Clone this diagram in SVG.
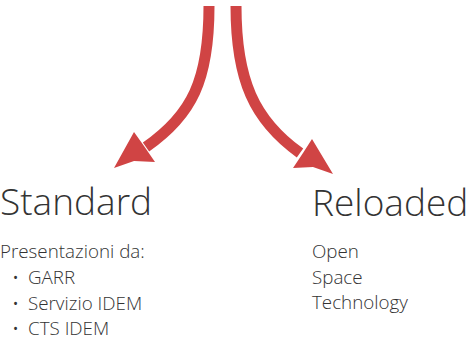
<svg xmlns="http://www.w3.org/2000/svg" width="472" height="341" viewBox="0 0 472 341">
<style>
.shaft{fill:none;stroke:#d04444;stroke-width:11;stroke-linecap:butt}
.head{fill:#d04444}
.t{font-family:"Open Sans","Liberation Sans",sans-serif;font-weight:300;fill:#333}
.big{font-size:37px}
.small{font-size:18.8px}
</style>
<rect width="472" height="341" fill="#fff"/>
<g id="connectors">
<path class="shaft" d="M209,6 C209,80 192,115 146,147"/>
<polygon class="head" points="114,168 134,132 144,146 155,162 134,161"/>
<path class="shaft" d="M236,6 C236,80 254,120 300,153"/>
<polygon class="head" points="333,174 312,139 303,153 293,168 313,167"/>
</g>
<g id="standard">
<text class="t big" x="0" y="215">Standard</text>
<text class="t small" x="0" y="258">Presentazioni da:</text>
<text class="t small" x="12" y="284">•</text>
<text class="t small" x="28" y="284">GARR</text>
<text class="t small" x="12" y="310">•</text>
<text class="t small" x="28" y="310">Servizio IDEM</text>
<text class="t small" x="12" y="335">•</text>
<text class="t small" x="28" y="335">CTS IDEM</text>
</g>
<g id="reloaded">
<text class="t big" x="312" y="216">Reloaded</text>
<text class="t small" x="312" y="258">Open</text>
<text class="t small" x="312" y="284">Space</text>
<text class="t small" x="312" y="309">Technology</text>
</g>
</svg>
